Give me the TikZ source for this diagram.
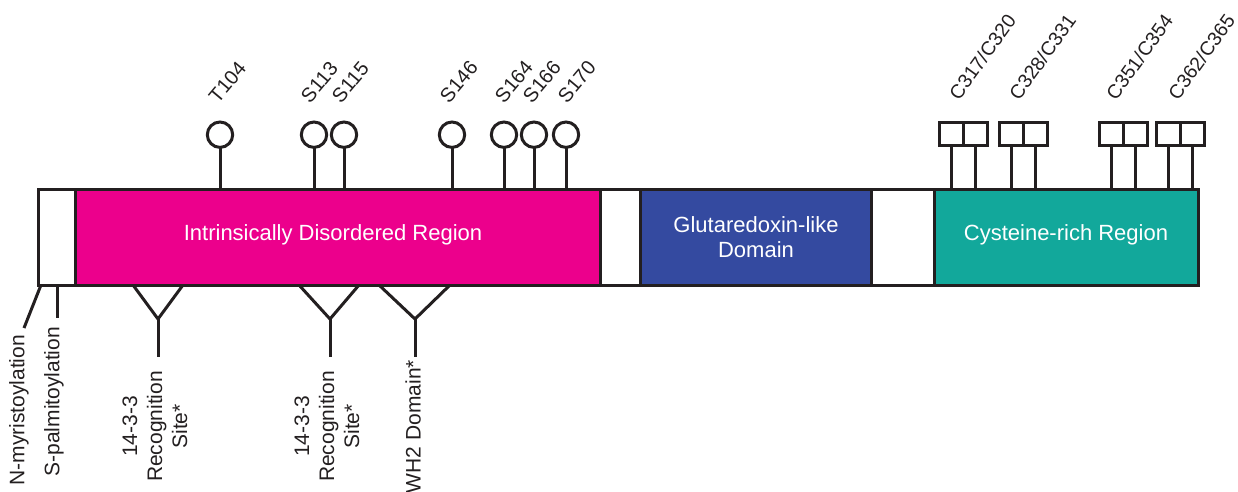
\documentclass[tikz,border=0pt]{standalone}
\usepackage{fontspec}
\setmainfont{Liberation Sans}
\definecolor{idrpink}{RGB}{236,0,140}
\definecolor{grxblue}{RGB}{52,74,160}
\definecolor{crrteal}{RGB}{18,168,155}
\definecolor{ink}{RGB}{35,31,32}
\begin{document}
\begin{tikzpicture}[x=1pt,y=-1pt,line width=3pt,
  every node/.style={outer sep=0pt,inner sep=0pt},
  seg/.style={draw=ink,rectangle,minimum height=96pt},
  phos/.style={draw=ink,fill=white,circle,minimum size=25.4pt},
  cys/.style={draw=ink,fill=white,rectangle,minimum width=24pt,minimum height=22.5pt},
  boxtext/.style={text=white,font=\fontsize{22}{25}\selectfont,align=center},
  site/.style={rotate=50,anchor=base west,font=\fontsize{20}{22}\selectfont,text=ink},
  cyslab/.style={rotate=54,anchor=base west,font=\fontsize{19.5}{22}\selectfont,text=ink},
  lowlab/.style={rotate=90,anchor=east,align=center,font=\fontsize{21}{25}\selectfont,text=ink},
  conn/.style={draw=ink,line width=3pt}]
\useasboundingbox (0,0) rectangle (1238,491);
% domain bar
\node[seg,fill=white,minimum width=37pt] (nterm) at (57,237) {};
\node[seg,fill=idrpink,minimum width=524.5pt] (idr) at (337.75,237) {};
\node[seg,fill=white,minimum width=40pt] (link1) at (620,237) {};
\node[seg,fill=grxblue,minimum width=231.5pt] (grx) at (755.75,237) {};
\node[seg,fill=white,minimum width=62.5pt] (link2) at (902.75,237) {};
\node[seg,fill=crrteal,minimum width=264pt] (crr) at (1066,237) {};
\node[boxtext,anchor=base] (idrlab) at (333,240) {Intrinsically Disordered Region};
\node[boxtext] (grxlab) at (756,237) {Glutaredoxin-like\\Domain};
\node[boxtext,anchor=base] (crrlab) at (1066,240) {Cysteine-rich Region};
% phosphosites
\foreach \nm/\xx/\lx in {T104/220/218,S113/314/310,S115/344/341,S146/452/449,S164/504/504,S166/534/532,S170/566/567}{
  \node[phos] (p\nm) at (\xx,134.7) {};
  \coordinate (b\nm) at (\xx,189);
  \draw[conn] (p\nm.south) -- (b\nm);
  \node[site] (l\nm) at (\lx,104) {\nm};
}
% cysteine pairs
\foreach \id/\xx/\lx/\txt in {a/951.5/959/C317\slash C320,b/1011/1019/C328\slash C331,c/1111/1116/C351\slash C354,d/1168.5/1178/C362\slash C365}{
  \node[cys] (c\id1) at (\xx,133.75) {};
  \node[cys] (c\id2) at (\xx+24,133.75) {};
  \coordinate (cb\id1) at (\xx,189);
  \coordinate (cb\id2) at (\xx+24,189);
  \draw[conn] (c\id1.south) -- (cb\id1);
  \draw[conn] (c\id2.south) -- (cb\id2);
  \node[cyslab] (cl\id) at (\lx,101) {\txt};
}
% lipid modifications
\coordinate (nmyrA) at (41,285);
\coordinate (nmyrB) at (24,328);
\coordinate (spalA) at (57,285);
\coordinate (spalB) at (57,318);
\draw[conn] (nmyrA) -- (nmyrB);
\draw[conn] (spalA) -- (spalB);
\node[lowlab] (nmyr) at (19,335) {N-myristoylation};
\node[lowlab] (spal) at (54,327) {S-palmitoylation};
% motifs
\foreach \id/\la/\vx/\ra in {s1/133/158/183,s2/299/330/359,wh/379/415/450}{
  \coordinate (\id L) at (\la,285);
  \coordinate (\id V) at (\vx,319);
  \coordinate (\id R) at (\ra,285);
  \coordinate (\id E) at (\vx,357);
  \draw[conn,line join=miter] (\id L) -- (\id V) -- (\id R);
  \draw[conn] (\id V) -- (\id E);
}
\node[lowlab] (s1lab) at (155,371) {14-3-3\\Recognition\\Site*};
\node[lowlab] (s2lab) at (327,371) {14-3-3\\Recognition\\Site*};
\node[lowlab] (whlab) at (413,360) {WH2 Domain*};
\end{tikzpicture}
\end{document}
